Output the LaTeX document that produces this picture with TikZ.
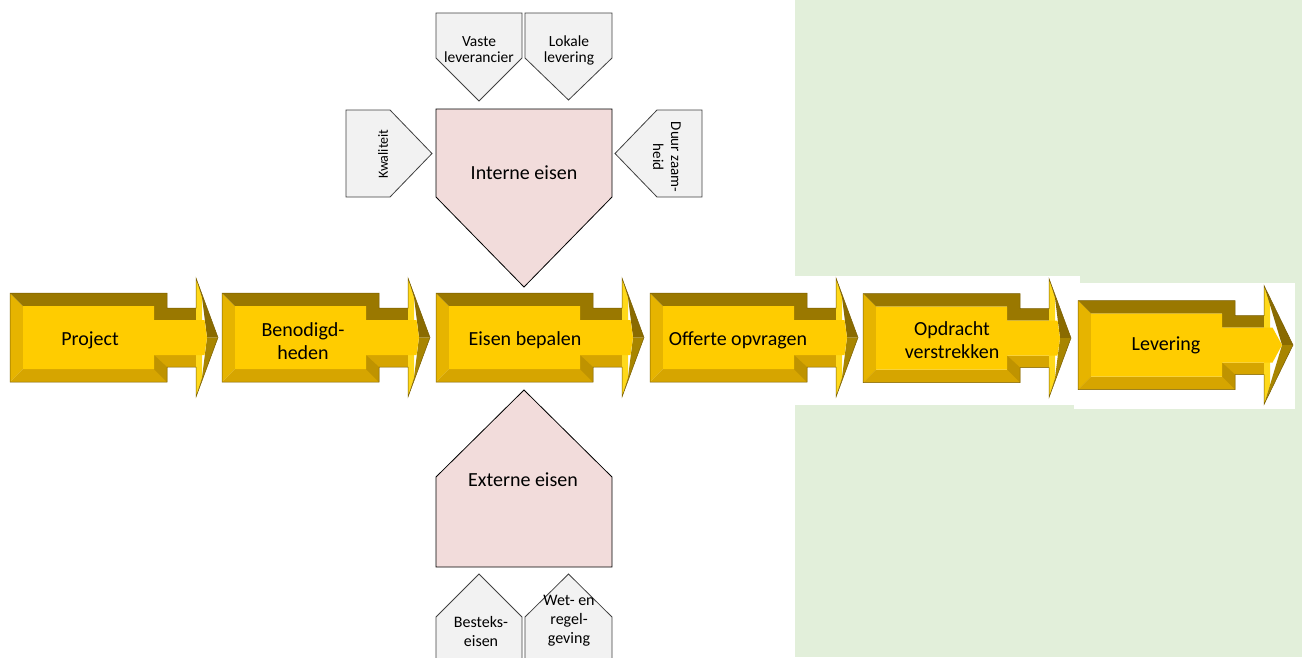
\documentclass[tikz,border=0pt]{standalone}
\usepackage{fontspec}
\setmainfont{Carlito}
\definecolor{bggreen}{HTML}{E2EFDA}
\definecolor{facec}{HTML}{FFCC00}
\definecolor{darkc}{HTML}{9A7800}
\definecolor{leftc}{HTML}{E6B400}
\definecolor{botc}{HTML}{D6A500}
\definecolor{botdark}{HTML}{BF9300}
\definecolor{headlight}{HTML}{FFD91A}
\definecolor{headdark}{HTML}{8A6B00}
\definecolor{headmid}{HTML}{A88500}
\definecolor{outl}{HTML}{7A5E00}
\definecolor{smallfill}{HTML}{F2F2F2}
\definecolor{smallline}{HTML}{404040}
\definecolor{pinkfill}{HTML}{F2DCDB}
\tikzset{
  lbl/.style={font=\fontsize{20}{23.5}\selectfont, align=center, inner sep=0pt},
  small/.style={font=\fontsize{15.5}{16}\selectfont, align=center, inner sep=0pt},
  smallb/.style={font=\fontsize{16}{19}\selectfont, align=center, inner sep=0pt},
  smallbox/.style={fill=smallfill, draw=smallline, line width=0.8pt, line join=miter},
  pinkbox/.style={fill=pinkfill, draw=black, line width=0.8pt, line join=miter},
}
% #1 = left x, #2 = centre y, #3 = tip x offset
\newcommand{\goldarrow}[3]{%
\begin{scope}[shift={(#1,#2)}]
  \fill[leftc] (0,-44.5)--(13,-31.5)--(13,31.5)--(0,44.5)--cycle;
  \fill[darkc] (0,-44.5)--(157,-44.5)--(157,-29.5)--(186,-29.5)--(186,-17.5)--(144,-17.5)--(144,-31.5)--(13,-31.5)--cycle;
  \fill[botc] (0,44.5)--(13,31.5)--(144,31.5)--(144,17.5)--(186,17.5)--(186,29.5)--(157,29.5)--(157,44.5)--cycle;
  \fill[botdark] (144,17.5)--(157,29.5)--(157,44.5)--(144,31.5)--cycle;
  \fill[headlight] (186,-59.5)--(192,-40)--(192,40)--(186,59.5)--cycle;
  \fill[headdark] (186,-59.5)--(#3,0)--(#3-11,0)--(192,-40)--cycle;
  \fill[headmid] (186,59.5)--(#3,0)--(#3-11,0)--(192,40)--cycle;
  \fill[facec] (13,-31.5)--(144,-31.5)--(144,-17.5)--(194.5,-17.5)--(#3-11,0)--(194.5,17.5)--(144,17.5)--(144,31.5)--(13,31.5)--cycle;
  \draw[outl, line width=0.5pt, line join=miter] (0,-44.5)--(157,-44.5)--(157,-29.5)--(186,-29.5)--(186,-59.5)--(#3,0)--(186,59.5)--(186,29.5)--(157,29.5)--(157,44.5)--(0,44.5)--cycle;
\end{scope}}
\begin{document}
\begin{tikzpicture}[x=1pt, y=-1pt]
\useasboundingbox (0,0) rectangle (1302,657);
\clip (0,0) rectangle (1302,657);
% background
\fill[bggreen] (795,0) rectangle (1302,657);
\fill[white] (795,276) rectangle (1080,405);
\fill[white] (1074,283) rectangle (1295,409);

% top small boxes
\draw[smallbox] (436,13)--(522,13)--(522,58)--(479,101)--(436,58)--cycle;
\draw[smallbox] (525,13)--(612,13)--(612,58)--(568.5,100)--(525,58)--cycle;
\node[small] (vaste) at (479,50) {Vaste\\leverancier};
\node[small] (lokale) at (569,50) {Lokale\\levering};

% side boxes
\draw[smallbox] (346,110)--(390,110)--(432,153.5)--(390,197)--(346,197)--cycle;
\node[small, font=\fontsize{14}{16}\selectfont, rotate=90] (kwal) at (383,154) {Kwaliteit};
\draw[smallbox] (702,110)--(657,110)--(615,153.5)--(657,197)--(702,197)--cycle;
\node[small, font=\fontsize{15}{18}\selectfont, rotate=-90] (duur) at (667,157) {Duur zaam-\\heid};

% interne eisen
\draw[pinkbox] (436,109)--(612,109)--(612,197)--(524,287)--(436,197)--cycle;
\node[lbl] (interne) at (524,173) {Interne eisen};

% externe eisen
\draw[pinkbox] (524,390)--(612,477)--(612,567)--(436,567)--(436,477)--cycle;
\node[lbl] (externe) at (523,480) {Externe eisen};

% bottom small boxes
\draw[smallbox] (479,574)--(522,617)--(522,670)--(436,670)--(436,617)--cycle;
\draw[smallbox] (568.5,574)--(612,617)--(612,670)--(525,670)--(525,617)--cycle;
\node[smallb] (besteks) at (481,631) {Besteks-\\eisen};
\node[smallb] (wet) at (569,621) {Wet- en\\regel-\\geving};

% process arrows
\goldarrow{10}{337.5}{208}
\goldarrow{222}{337.5}{208}
\goldarrow{436}{337.5}{208}
\goldarrow{650}{337.5}{208}
\goldarrow{863}{338}{208}
\goldarrow{1078}{345}{215}
\node[lbl] (project) at (90,340) {Project};
\node[lbl] (benod) at (303,341) {Benodigd-\\heden};
\node[lbl] (eisen) at (525,340) {Eisen bepalen};
\node[lbl] (offerte) at (738,340) {Offerte opvragen};
\node[lbl] (opdracht) at (952,340) {Opdracht\\verstrekken};
\node[lbl] (levering) at (1166,345) {Levering};
\end{tikzpicture}
\end{document}
